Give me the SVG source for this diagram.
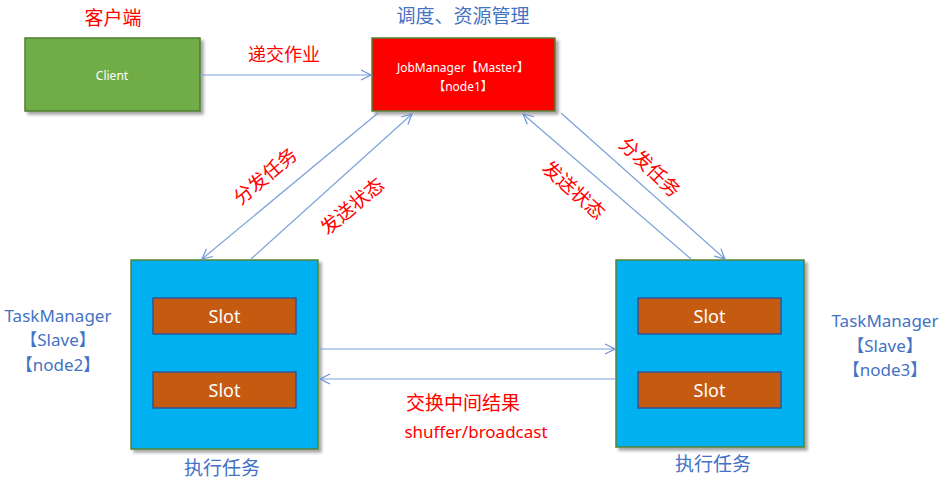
<svg xmlns="http://www.w3.org/2000/svg" width="946" height="481" viewBox="0 0 946 481">
<defs>
<marker id="arr" viewBox="0 0 12 12" refX="11" refY="6" markerWidth="12" markerHeight="12" markerUnits="userSpaceOnUse" orient="auto">
<path d="M1,1 L11,6 L1,11" fill="none" stroke="#6f93d6" stroke-width="1.2"/>
</marker>
<filter id="sh" x="-10%" y="-10%" width="130%" height="130%">
<feDropShadow dx="3" dy="3" stdDeviation="1.5" flood-color="#000" flood-opacity="0.35"/>
</filter>
</defs>
<style>
.t{font-family:"Noto Sans","Noto Sans CJK SC",sans-serif;text-anchor:middle;dominant-baseline:central}
.red{fill:#ff0000}
.blue{fill:#4472c4}
.white{fill:#ffffff}
.ln{stroke:#7aa0dc;stroke-width:1.2;fill:none;marker-end:url(#arr)}
.slot{fill:#c55a11;stroke:#2f5597;stroke-width:1.5}
.tm{fill:#00b0f0;stroke:#548235;stroke-width:1.5;filter:url(#sh)}
</style>
<rect width="946" height="481" fill="#ffffff"/>
<text class="t red" x="113" y="18" font-size="19">客户端</text>
<text class="t blue" x="463" y="16" font-size="19">调度、资源管理</text>
<text class="t red" x="284" y="54" font-size="18">递交作业</text>

<g id="client">
<rect x="25" y="38" width="175" height="73" fill="#70ad47" stroke="#507e32" stroke-width="1.5" filter="url(#sh)"/>
<text class="t white" x="112" y="75" font-size="12">Client</text>
</g>
<g id="jobmanager">
<rect x="372" y="38" width="183" height="73" fill="#ff0000" stroke="#548235" stroke-width="1.5" filter="url(#sh)"/>
<text class="t white" x="463" y="67" font-size="12">JobManager【Master】</text>
<text class="t white" x="463" y="86" font-size="12">【node1】</text>
</g>
<g id="taskmanager2">
<rect class="tm" x="131" y="260" width="187" height="189"/>
<rect class="slot" x="153" y="298" width="143" height="36"/>
<text class="t white" x="224.5" y="316" font-size="18">Slot</text>
<rect class="slot" x="153" y="372" width="143" height="36"/>
<text class="t white" x="224.5" y="390" font-size="18">Slot</text>
<text class="t blue" x="58" y="315" font-size="17">TaskManager</text>
<text class="t blue" x="58" y="339" font-size="17">【Slave】</text>
<text class="t blue" x="58" y="364" font-size="17">【node2】</text>
<text class="t blue" x="222" y="468" font-size="19">执行任务</text>
</g>
<g id="taskmanager3">
<rect class="tm" x="616" y="260" width="188" height="187"/>
<rect class="slot" x="638" y="298" width="143" height="36"/>
<text class="t white" x="709.5" y="316" font-size="18">Slot</text>
<rect class="slot" x="638" y="372" width="143" height="36"/>
<text class="t white" x="709.5" y="390" font-size="18">Slot</text>
<text class="t blue" x="885" y="320" font-size="17">TaskManager</text>
<text class="t blue" x="885" y="345" font-size="17">【Slave】</text>
<text class="t blue" x="885" y="369" font-size="17">【node3】</text>
<text class="t blue" x="713" y="464" font-size="19">执行任务</text>
</g>
<g id="connectors">
<line class="ln" x1="200" y1="75" x2="371" y2="75"/>
<line class="ln" x1="378" y1="113" x2="202" y2="259"/>
<line class="ln" x1="251" y1="259" x2="412" y2="114"/>
<line class="ln" x1="691" y1="259" x2="523" y2="114"/>
<line class="ln" x1="561" y1="113" x2="725" y2="259"/>
<line class="ln" x1="319" y1="349" x2="615" y2="349"/>
<line class="ln" x1="615" y1="379" x2="320" y2="379"/>
<text class="t red" x="265" y="176" font-size="19" transform="rotate(-40 265 176)">分发任务</text>
<text class="t red" x="352" y="206" font-size="19" transform="rotate(-40 352 206)">发送状态</text>
<text class="t red" x="574" y="190" font-size="19" transform="rotate(42 574 190)">发送状态</text>
<text class="t red" x="650" y="167" font-size="19" transform="rotate(44 650 167)">分发任务</text>
<text class="t red" x="463" y="403" font-size="19">交换中间结果</text>
<text class="t red" x="476" y="431" font-size="17">shuffer/broadcast</text>
</g>
</svg>
